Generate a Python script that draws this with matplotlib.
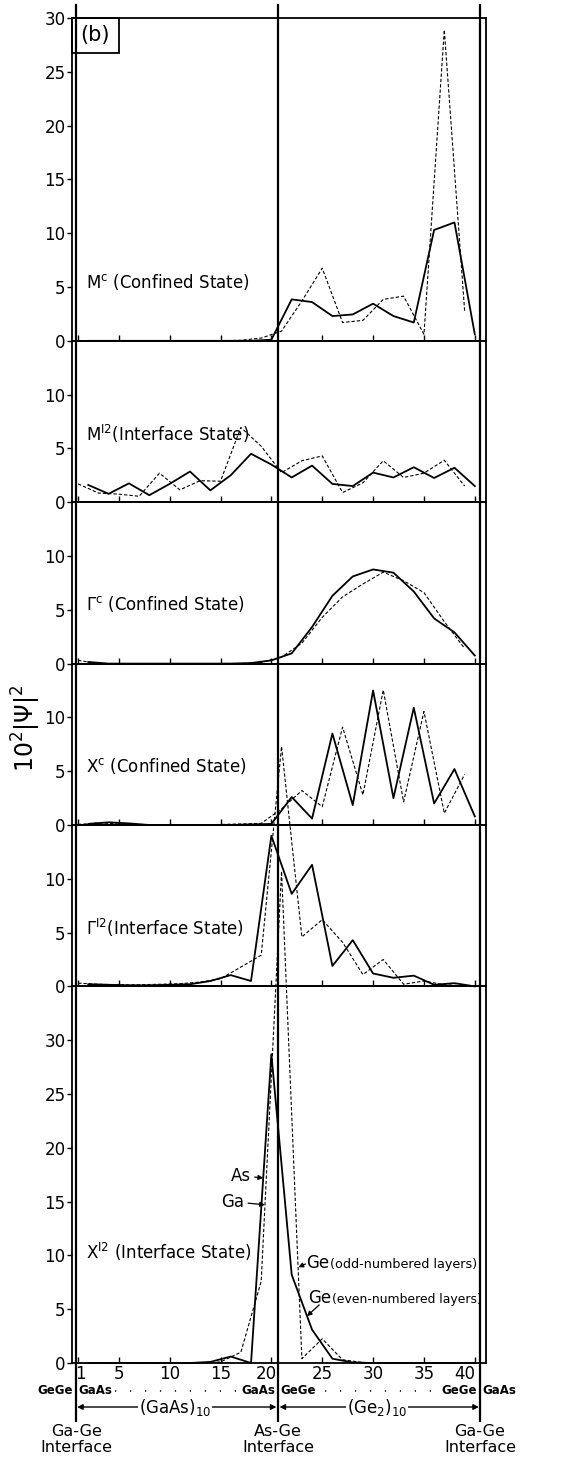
import matplotlib
matplotlib.use("Agg")
import matplotlib.pyplot as plt
from matplotlib.lines import Line2D
from matplotlib.patches import Rectangle
from matplotlib.transforms import blended_transform_factory

# ---------------- data ----------------
layers_odd = list(range(1, 40, 2))    # dashed curves (odd-numbered layers: Ga / Ge-odd)
layers_even = list(range(2, 41, 2))   # solid curves (even-numbered layers: As / Ge-even)

mc_even = [0, 0, 0, 0, 0, 0, 0, 0, 0, 0.1, 3.85, 3.6, 2.3, 2.45, 3.45, 2.3, 1.7, 10.3, 11.0, 0.6]
mc_odd = [0, 0, 0, 0, 0, 0, 0, 0, 0.05, 0.25, 0.9, 3.7, 6.75, 1.7, 1.9, 3.85, 4.15, 0.6, 28.9, 2.75]

mi2_even = [1.6, 0.78, 1.75, 0.65, 1.7, 2.85, 1.1, 2.5, 4.5, 3.5, 2.3, 3.4, 1.7, 1.5, 2.75, 2.3, 3.25, 2.25, 3.2, 1.5]
mi2_odd = [1.7, 0.85, 0.75, 0.55, 2.7, 1.15, 2.0, 1.95, 6.95, 5.2, 2.75, 3.85, 4.3, 0.9, 1.8, 3.85, 2.3, 2.7, 3.9, 1.5]

gc_even = [0.15, 0, 0, 0, 0, 0, 0, 0, 0.05, 0.3, 0.95, 3.4, 6.3, 8.1, 8.75, 8.45, 6.7, 4.2, 2.9, 0.75]
gc_odd = [0.3, 0, 0, 0, 0, 0, 0, 0, 0.02, 0.1, 0.6, 1.9, 4.3, 6.2, 7.4, 8.5, 7.7, 6.6, 3.9, 1.4]

xc_even = [0.1, 0.25, 0.15, 0, 0, 0, 0, 0, 0.05, 0.1, 2.6, 0.6, 8.5, 1.85, 12.5, 2.5, 10.9, 2.0, 5.2, 0.8]
xc_odd = [0.05, 0.2, 0.1, 0, 0, 0, 0, 0.05, 0.1, 0.15, 1.5, 3.2, 1.7, 9.1, 2.8, 12.55, 2.15, 10.55, 1.1, 4.7]

gi2_even = [0.2, 0.15, 0.1, 0.1, 0.15, 0.2, 0.5, 1.05, 0.5, 14.0, 8.6, 11.3, 1.9, 4.3, 1.2, 0.8, 1.0, 0.15, 0.3, 0.0]
gi2_odd = [0.3, 0.2, 0.15, 0.15, 0.2, 0.25, 0.4, 0.7, 1.8, 2.9, 22.3, 4.6, 6.2, 4.1, 1.1, 2.5, 0.2, 0.5, 0.15, 0.05]

xi2_even = [0, 0, 0, 0, 0, 0, 0.1, 0.6, 0.0, 28.7, 8.2, 3.1, 0.4, 0.05, 0, 0, 0, 0, 0, 0]
xi2_odd = [0, 0, 0, 0, 0, 0, 0, 0.1, 1.0, 7.6, 45.7, 0.4, 2.25, 0.3, 0.05, 0, 0, 0, 0, 0]

state_labels = [r"M$^{\rm c}$ (Confined State)",
                r"M$^{\rm I2}$(Interface State)",
                r"$\Gamma^{\rm c}$ (Confined State)",
                r"X$^{\rm c}$ (Confined State)",
                r"$\Gamma^{\rm I2}$(Interface State)",
                r"X$^{\rm I2}$ (Interface State)"]
ymax = [30, 15, 15, 15, 15, 35]
yticks_list = [[0, 5, 10, 15, 20, 25, 30], [0, 5, 10], [0, 5, 10], [0, 5, 10], [0, 5, 10],
               [0, 5, 10, 15, 20, 25, 30]]
label_y = [5.5, 6.3, 5.5, 5.5, 5.45, 10.35]
solids = [mc_even, mi2_even, gc_even, xc_even, gi2_even, xi2_even]
dasheds = [mc_odd, mi2_odd, gc_odd, xc_odd, gi2_odd, xi2_odd]

xticks = [1, 5, 10, 15, 20, 25, 30, 35, 40]
xticklabels = ["1", "5", "10", "15", "20", "25", "30", "35", "40"]
xtick_shift = [0.2, 0, 0, 0, -0.5, 0, 0, 0, -1.0]
interfaces = [0.8, 20.65, 40.5]

# ---------------- figure ----------------
W, H = 578, 1457
fig = plt.figure(figsize=(W / 100, H / 100), dpi=100)
gs = fig.add_gridspec(6, 1, height_ratios=ymax, hspace=0,
                      left=72 / W, right=486 / W, top=1 - 18 / H, bottom=1 - 1363 / H)

axes = []
for i in range(6):
    ax = fig.add_subplot(gs[i])
    axes.append(ax)
    ax.set_xlim(0.4, 41.1)
    ax.set_ylim(0, ymax[i])
    ax.plot(layers_even, solids[i], color="black", lw=1.3, clip_on=False, zorder=3)
    ax.plot(layers_odd, dasheds[i], color="black", lw=0.8, ls=(0, (3, 1.8)),
            clip_on=False, zorder=3)
    ax.set_yticks(yticks_list[i])
    ax.set_yticklabels([str(t) for t in yticks_list[i]])
    ax.tick_params(axis="y", direction="out", length=3.5, width=1, labelsize=12, pad=1)
    ax.set_xticks(xticks)
    ax.tick_params(axis="x", direction="in", length=4, width=1, labelbottom=False)
    for s in ax.spines.values():
        s.set_linewidth(1.3)
    ax.text(1.75, label_y[i], state_labels[i], fontsize=12, ha="left", va="center")
    ax.patch.set_alpha(0)

# (b) box
ax1 = axes[0]
ax1.add_patch(Rectangle((0, 0.893), 0.1135, 0.107, transform=ax1.transAxes,
                        fill=False, lw=1.3, clip_on=False))
ax1.text(0.0567, 0.947, "(b)", transform=ax1.transAxes, fontsize=15,
         ha="center", va="center")

# bottom panel annotations
ax6 = axes[5]
renderer = fig.canvas.get_renderer()
ax6.annotate("As", xy=(19.2, 17.2), xytext=(17.95, 17.4), fontsize=12, ha="right",
             va="center", arrowprops=dict(arrowstyle="-|>", lw=0.9, color="black",
                                          mutation_scale=7, shrinkA=1, shrinkB=0))
ax6.annotate("Ga", xy=(19.37, 14.7), xytext=(17.3, 15.0), fontsize=12, ha="right",
             va="center", arrowprops=dict(arrowstyle="-|>", lw=0.9, color="black",
                                          mutation_scale=7, shrinkA=1, shrinkB=0))
ax6.annotate("", xy=(22.65, 8.9), xytext=(23.35, 9.2),
             arrowprops=dict(arrowstyle="-|>", lw=0.9, color="black",
                             mutation_scale=7, shrinkA=0, shrinkB=0))
ax6.annotate("", xy=(23.5, 4.35), xytext=(24.7, 5.4),
             arrowprops=dict(arrowstyle="-|>", lw=0.9, color="black",
                             mutation_scale=7, shrinkA=0, shrinkB=0))
for xg, yg, rest, fs in [(23.4, 9.3, "(odd-numbered layers)", 9.2),
                         (23.6, 6.05, "(even-numbered layers)", 8.9)]:
    tg = ax6.text(xg, yg, "Ge", fontsize=12, ha="left", va="center")
    bb = tg.get_window_extent(renderer)
    xe = ax6.transData.inverted().transform((bb.x1, bb.y0))[0]
    ax6.text(xe + 0.05, yg - 0.15, rest, fontsize=fs, ha="left", va="center")

# x tick labels on bottom panel
tb = blended_transform_factory(ax6.transData, fig.transFigure)
for v, lab, dx in zip(xticks, xticklabels, xtick_shift):
    ax6.text(v + dx, 1 - 1374 / H, lab, transform=tb, fontsize=12, ha="center", va="center")

# interface lines spanning the whole figure
for xv in interfaces:
    xf = fig.transFigure.inverted().transform(ax6.transData.transform((xv, 0)))[0]
    fig.add_artist(Line2D([xf, xf], [1 - 5 / H, 1 - 1421 / H], transform=fig.transFigure,
                          color="black", lw=1.6))

# layer-composition row
ycomp = 1 - 1391 / H
for xv, lt, rt in [(interfaces[0], "GeGe", "GaAs"), (interfaces[1], "GaAs", "GeGe"),
                   (interfaces[2], "GeGe", "GaAs")]:
    ax6.text(xv - 0.3, ycomp, lt, transform=tb, fontsize=8.5, ha="right", va="center",
             fontweight="semibold")
    ax6.text(xv + 0.2, ycomp, rt, transform=tb, fontsize=8.5, ha="left", va="center",
             fontweight="semibold")
for x0, x1 in [(4.6, 16.9), (23.8, 36.2)]:
    ax6.plot([x0, x1], [ycomp, ycomp], transform=tb, color="black", lw=1.1,
             ls=(0, (0.8, 9)), clip_on=False)

# period arrows
yarr = 1 - 1407 / H
for x0, x1, xt, txt in [(interfaces[0] + 0.1, interfaces[1] - 0.15, 10.55, r"(GaAs)$_{10}$"),
                        (interfaces[1] + 0.15, interfaces[2] - 0.1, 30.4, r"(Ge$_2$)$_{10}$")]:
    ax6.annotate("", xy=(x1, yarr), xytext=(x0, yarr), xycoords=tb, textcoords=tb,
                 arrowprops=dict(arrowstyle="<|-|>", lw=1.0, color="black",
                                 mutation_scale=8, shrinkA=0, shrinkB=0))
    ax6.text(xt, yarr, txt, transform=tb, fontsize=12, ha="center", va="center",
             bbox=dict(facecolor="white", edgecolor="none", pad=0.5))

# interface names
for xv, name in zip(interfaces, ["Ga-Ge", "As-Ge", "Ga-Ge"]):
    ax6.text(xv, 1 - 1431 / H, name, transform=tb, fontsize=11.5, ha="center", va="center")
    ax6.text(xv, 1 - 1447 / H, "Interface", transform=tb, fontsize=11.5, ha="center",
             va="center")

# y label
fig.text(26 / W, 1 - 728 / H, r"10$^2$|Ψ|$^2$", rotation=90, fontsize=17,
         ha="center", va="center")

fig.savefig("out.png", dpi=100)
